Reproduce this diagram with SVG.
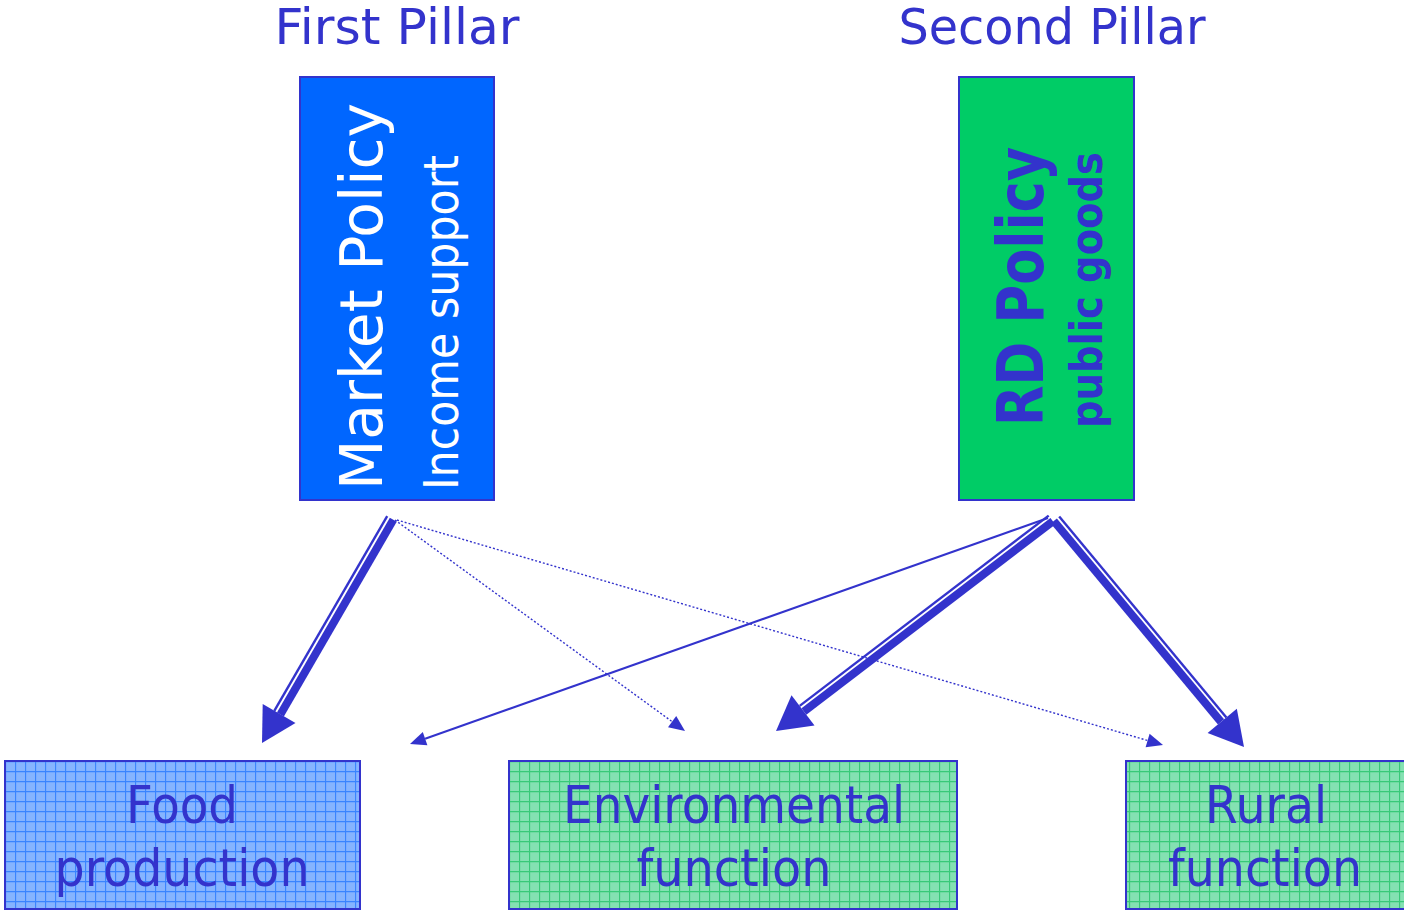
<svg xmlns="http://www.w3.org/2000/svg" width="1404" height="910" viewBox="0 0 1404 910">
<defs>
<pattern id="gridBlue" width="10" height="10" patternUnits="userSpaceOnUse" x="5" y="761">
<rect width="10" height="10" fill="#86B4FF"/>
<path d="M0.5,0 V10 M0,0.5 H10" stroke="#3A84FF" stroke-width="1.3" fill="none"/>
</pattern>
<pattern id="gridGreen" width="10" height="10" patternUnits="userSpaceOnUse" x="509" y="761">
<rect width="10" height="10" fill="#84E1B2"/>
<path d="M0.5,0 V10 M0,0.5 H10" stroke="#38C978" stroke-width="1.3" fill="none"/>
</pattern>
<style>
.t{font-family:"DejaVu Sans","Liberation Sans",sans-serif;fill:#3333CC}
.w{fill:#FFFFFF}
.b{font-weight:bold}
.box{stroke:#3333CC;stroke-width:2}
.thick{stroke:#3333CC;stroke-width:8;fill:none}
.thin2{stroke:#3333CC;stroke-width:2.4;fill:none}
.thin1{stroke:#3333CC;stroke-width:2;fill:none}
.dot{stroke:#3333CC;stroke-width:1.4;stroke-dasharray:2 2;fill:none}
.head{fill:#3333CC}
</style>
</defs>
<rect width="1404" height="910" fill="#FFFFFF"/>

<g id="label-first">
<text class="t" x="397" y="44" font-size="50" text-anchor="middle" textLength="245" lengthAdjust="spacingAndGlyphs">First Pillar</text>
</g>
<g id="label-second">
<text class="t" x="1052" y="44" font-size="50" text-anchor="middle" textLength="307" lengthAdjust="spacingAndGlyphs">Second Pillar</text>
</g>

<g id="market-policy">
<rect class="box" x="300" y="77" width="194" height="423" fill="#0066FF"/>
<text class="t w" transform="translate(382,490) rotate(-90)" font-size="59" textLength="387" lengthAdjust="spacingAndGlyphs">Market Policy</text>
<text class="t w" transform="translate(458,490) rotate(-90)" font-size="48" textLength="335" lengthAdjust="spacingAndGlyphs">Income support</text>
</g>

<g id="rd-policy">
<rect class="box" x="959" y="77" width="175" height="423" fill="#00CC66"/>
<text class="t b" transform="translate(1043,426) rotate(-90)" font-size="64" textLength="279" lengthAdjust="spacingAndGlyphs">RD Policy</text>
<text class="t b" transform="translate(1102,428) rotate(-90)" font-size="44" textLength="276" lengthAdjust="spacingAndGlyphs">public goods</text>
</g>

<g id="food">
<rect class="box" x="5" y="761" width="355" height="148" fill="url(#gridBlue)"/>
<text class="t" x="182" y="823" font-size="52" text-anchor="middle" textLength="112" lengthAdjust="spacingAndGlyphs">Food</text>
<text class="t" x="182" y="886" font-size="52" text-anchor="middle" textLength="255" lengthAdjust="spacingAndGlyphs">production</text>
</g>

<g id="environmental">
<rect class="box" x="509" y="761" width="448" height="148" fill="url(#gridGreen)"/>
<text class="t" x="734" y="823" font-size="52" text-anchor="middle" textLength="342" lengthAdjust="spacingAndGlyphs">Environmental</text>
<text class="t" x="734" y="886" font-size="52" text-anchor="middle" textLength="195" lengthAdjust="spacingAndGlyphs">function</text>
</g>

<g id="rural">
<rect class="box" x="1126" y="761" width="290" height="148" fill="url(#gridGreen)"/>
<text class="t" x="1266" y="823" font-size="52" text-anchor="middle" textLength="122" lengthAdjust="spacingAndGlyphs">Rural</text>
<text class="t" x="1265" y="886" font-size="52" text-anchor="middle" textLength="194" lengthAdjust="spacingAndGlyphs">function</text>
</g>

<g id="connectors">
<!-- Market -> Food (thick double) -->
<line class="thick" x1="393.3" y1="519.8" x2="280.4" y2="714.4"/>
<line class="thin2" x1="387.2" y1="516.2" x2="274.3" y2="710.8"/>
<polygon class="head" points="262,743 295.5,723.1 262.7,704.1"/>
<!-- Market -> Environmental (dotted) -->
<line class="dot" x1="395" y1="520" x2="672.1" y2="721.6"/>
<polygon class="head" points="685,731 676.2,715.9 668,727.3"/>
<!-- Market -> Rural (dotted) -->
<line class="dot" x1="397" y1="520" x2="1147.6" y2="740.5"/>
<polygon class="head" points="1163,745 1149.6,733.8 1145.6,747.2"/>
<!-- RD -> Food (thin) -->
<line class="thin1" x1="1048" y1="518" x2="425.1" y2="738.7"/>
<polygon class="head" points="410,744 427.4,745.3 422.8,732.1"/>
<!-- RD -> Environmental (thick double) -->
<line class="thick" x1="1052.9" y1="521.2" x2="803.9" y2="711.5"/>
<line class="thin2" x1="1048.7" y1="515.6" x2="799.7" y2="705.9"/>
<polygon class="head" points="776,731 814.5,725.4 791.5,695.2"/>
<!-- RD -> Rural (thick double) -->
<line class="thick" x1="1053.8" y1="521" x2="1221" y2="721.9"/>
<line class="thin2" x1="1059.2" y1="516.5" x2="1226.4" y2="717.4"/>
<polygon class="head" points="1244,747 1236.8,708.7 1207.6,733.1"/>
</g>
</svg>
